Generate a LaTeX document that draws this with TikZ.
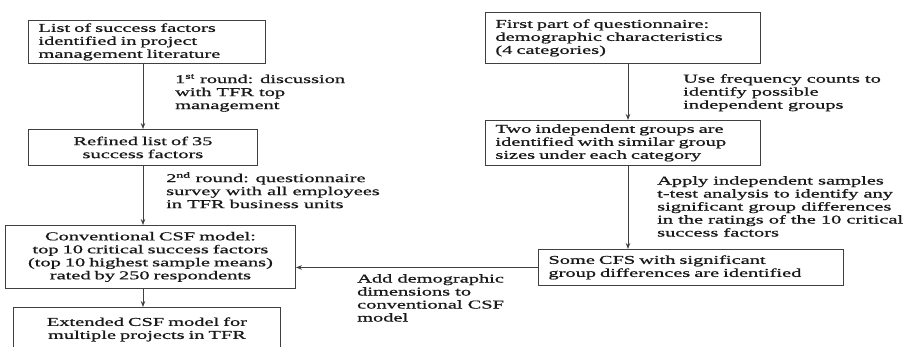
\documentclass[tikz,border=0pt]{standalone}
\usepackage{fontspec}
\setmainfont{Liberation Serif}[FakeStretch=1.7, FakeBold=0.9]
\usetikzlibrary{arrows.meta}

\tikzset{
	box/.style={draw=black!75, line width=0.9pt, anchor=north west, inner xsep=10pt, inner ysep=0pt},
	note/.style={anchor=north west, inner sep=0pt, align=left},
	flow/.style={draw=black!75, line width=0.9pt, -{Stealth[length=6pt,width=4.5pt]}}
}

\begin{document}
\begin{tikzpicture}[x=1pt,y=-1pt, font=\fontsize{12}{13}\selectfont, text=black!90]
	
	\useasboundingbox (0,0) rectangle (916,347);
	\clip (0,0) rectangle (916,347);
	
	% left column
	\node[box, text width=217pt, minimum height=43pt, align=left] (lit) at (28,20) {List of success factors\\identified in project\\management literature};
	\node[box, text width=209pt, minimum height=36pt, align=center] (refined) at (28,129) {Refined list of 35\\success factors};
	\node[box, text width=270pt, minimum height=63pt, align=center] (conv) at (5,225) {Conventional CSF model:\\top 10 critical success factors\\(top 10 highest sample means)\\rated by 250 respondents};
	\node[box, text width=247pt, minimum height=44pt, align=center] (ext) at (13,307) {Extended CSF model for\\multiple projects in TFR};
	
	% right column
	\node[box, text width=255pt, minimum height=51pt, align=left] (first) at (485,12) {First part of questionnaire:\\demographic characteristics\\(4 categories)};
	\node[box, text width=255pt, minimum height=45pt, align=left] (groups) at (485,120) {Two independent groups are\\identified with similar group\\sizes under each category};
	\node[box, text width=285pt, minimum height=36pt, align=left] (diff) at (538,249) {Some CFS with significant\\group differences are identified};
	
	\coordinate (lx) at (143,0);
	\coordinate (rx) at (628,0);
	
	\draw[flow] (lit.south -| lx) -- (refined.north -| lx);
	\draw[flow] (refined.south -| lx) -- (conv.north -| lx);
	\draw[flow] (conv.south -| lx) -- (ext.north -| lx);
	\draw[flow] (first.south -| rx) -- (groups.north -| rx);
	\draw[flow] (groups.south -| rx) -- (diff.north -| rx);
	\draw[flow] (diff.west) -- (diff.west -| conv.east);
	
	% labels
	\node[note] (r1) at (175,74) {1\textsuperscript{st} round: discussion\\with TFR top\\management};
	\node[note] (r2) at (166,172) {2\textsuperscript{nd} round: questionnaire\\survey with all employees\\in TFR business units};
	\node[note] (freq) at (683,74) {Use frequency counts to\\identify possible\\independent groups};
	\node[note] (ttest) at (657,176) {Apply independent samples\\t-test analysis to identify any\\significant group differences\\in the ratings of the 10 critical\\success factors};
	\node[note] (add) at (357,274) {Add demographic\\dimensions to\\conventional CSF\\model};
	
\end{tikzpicture}
\end{document}
